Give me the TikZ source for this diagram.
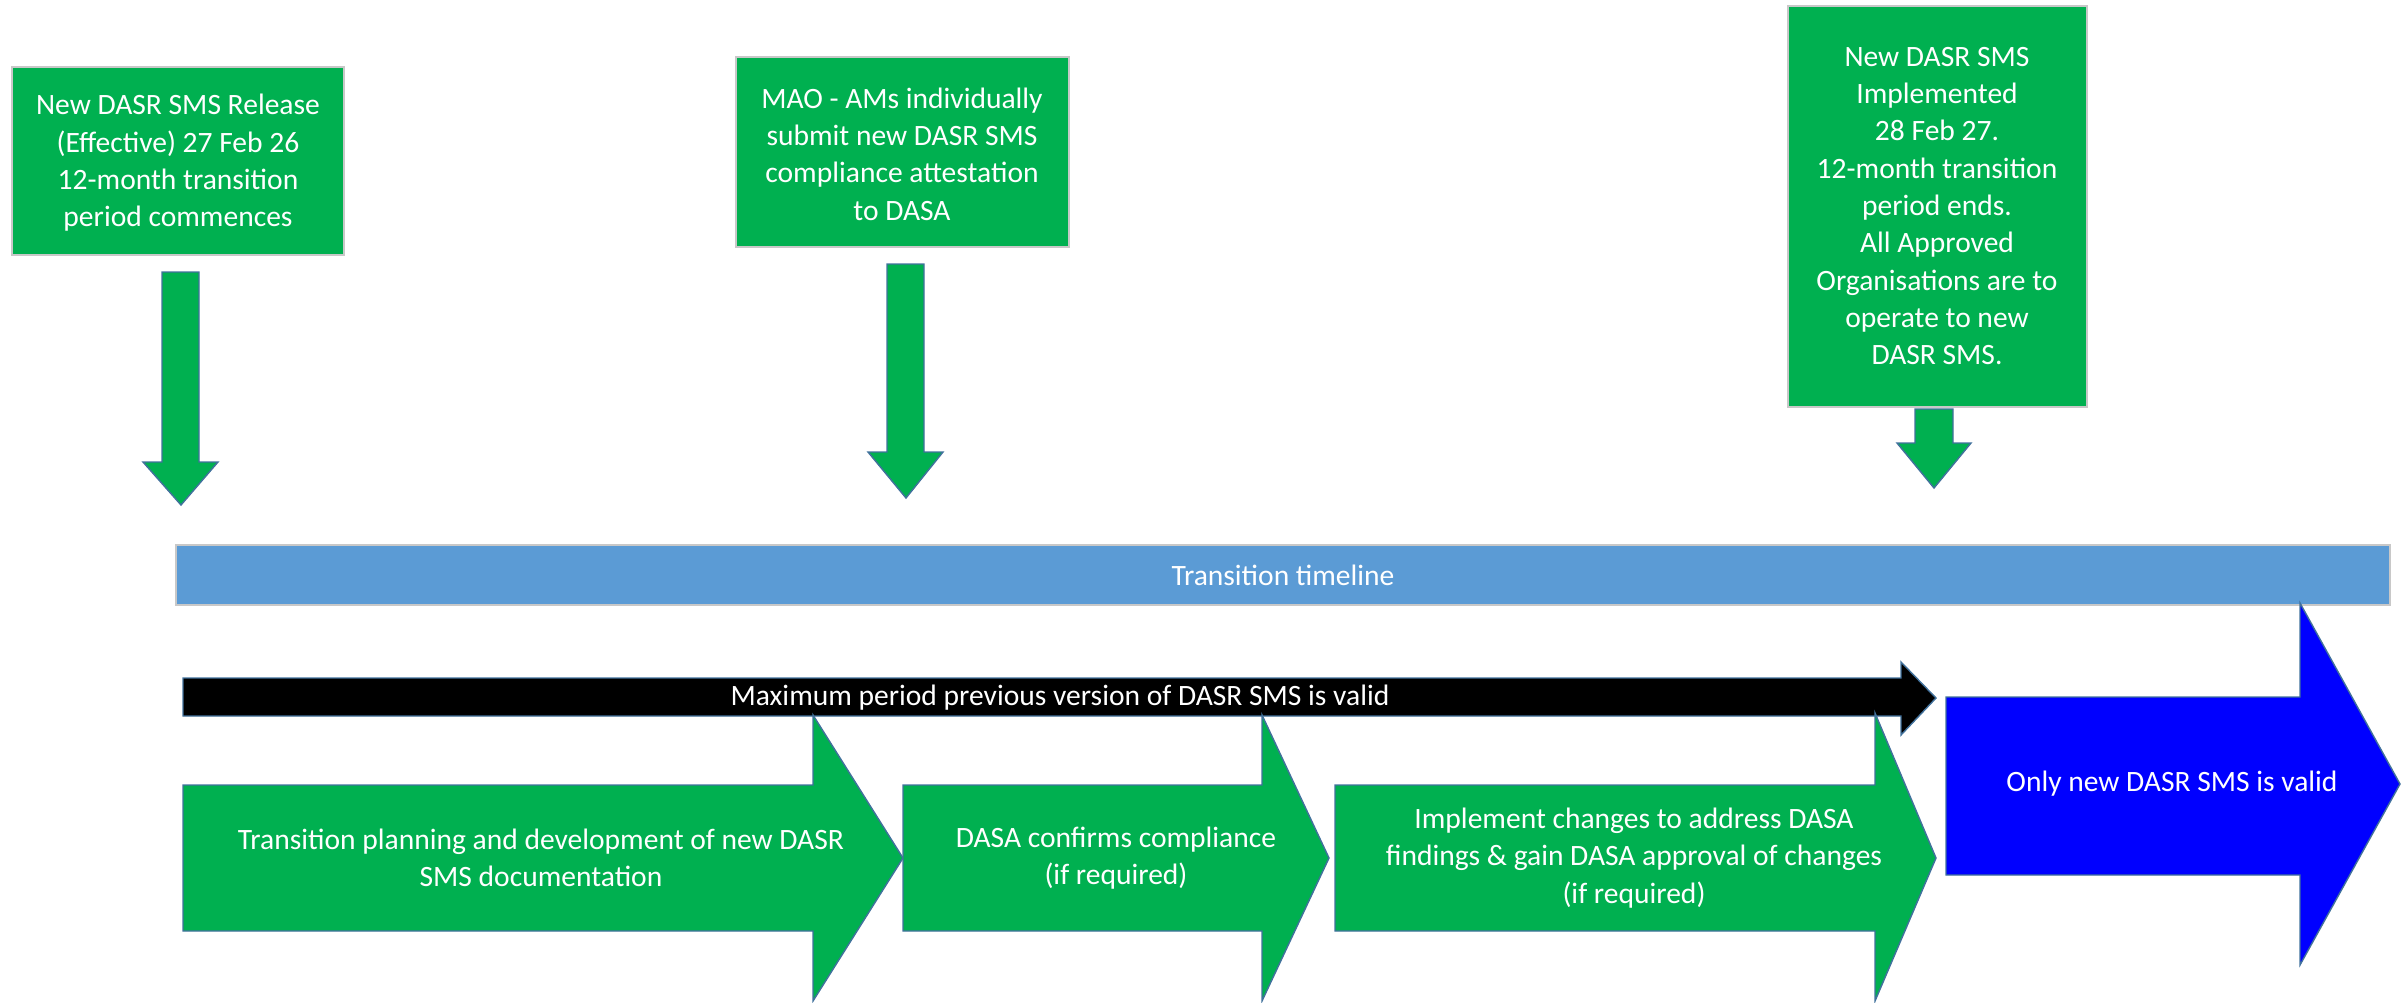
\documentclass[tikz,border=0pt]{standalone}
\usepackage{fontspec}
\setmainfont{Carlito}
\definecolor{ogreen}{HTML}{00B050}
\definecolor{barblue}{HTML}{5B9BD5}
\definecolor{pureblue}{HTML}{0000FF}
\definecolor{edgeblue}{HTML}{41719C}
\definecolor{boxedge}{HTML}{C8C8C8}
\begin{document}
\begin{tikzpicture}[x=0.01cm,y=-0.01cm,
  txt/.style={text=white,align=center,inner sep=0pt,font=\fontsize{8.4}{10.6}\selectfont},
  gbox/.style={fill=ogreen,draw=boxedge,line width=0.6pt},
  garrow/.style={fill=ogreen,draw=edgeblue,line width=0.4pt,line join=miter},
]
\useasboundingbox (0,0) rectangle (2405,1002);

% top boxes
\path[gbox] (12,67) rectangle (344,255);
\node[txt] (t1) at (178,163) {New DASR SMS Release\\(Effective) 27 Feb 26\\12-month transition\\period commences};
\path[gbox] (736,57) rectangle (1069,247);
\node[txt] (t2) at (902,154) {MAO - AMs individually\\submit new DASR SMS\\compliance attestation\\to DASA};
\path[gbox] (1788,6) rectangle (2087,407);
\node[txt] (t3) at (1937,206) {New DASR SMS\\Implemented\\28 Feb 27.\\12-month transition\\period ends.\\All Approved\\Organisations are to\\operate to new\\DASR SMS.};

% down arrows
\path[garrow] (162,272) -- (199,272) -- (199,462) -- (218,462) -- (181,505) -- (143,462) -- (162,462) -- cycle;
\path[garrow] (887,264) -- (924,264) -- (924,452) -- (943,452) -- (906,498) -- (868,452) -- (887,452) -- cycle;
\path[garrow] (1915,409) -- (1953,409) -- (1953,443) -- (1971,443) -- (1934,488) -- (1897,443) -- (1915,443) -- cycle;

% timeline bar
\path[fill=barblue,draw=boxedge,line width=0.6pt] (176,545) rectangle (2390,605);
\node[txt] (tl) at (1283,575) {Transition timeline};

% black arrow
\path[fill=black,draw=edgeblue,line width=0.4pt] (183,678) -- (1901,678) -- (1901,662) -- (1936,698) -- (1901,735) -- (1901,716) -- (183,716) -- cycle;
\node[txt] (mx) at (1060,698) {Maximum period previous version of DASR SMS is valid};

% green process arrows
\path[garrow] (183,785) -- (813,785) -- (813,715) -- (903,858) -- (813,1001) -- (813,931) -- (183,931) -- cycle;
\node[txt] (p1) at (541,858) {Transition planning and development of new DASR\\SMS documentation};
\path[garrow] (903,785) -- (1262,785) -- (1262,715) -- (1329,858) -- (1262,1001) -- (1262,931) -- (903,931) -- cycle;
\node[txt] (p2) at (1116,858) {DASA confirms compliance\\(if required)};
\path[garrow] (1335,785) -- (1875,785) -- (1875,713) -- (1936,858) -- (1875,1001) -- (1875,931) -- (1335,931) -- cycle;
\node[txt] (p3) at (1634,858) {Implement changes to address DASA\\findings \& gain DASA approval of changes\\(if required)};

% blue arrow
\path[fill=pureblue,draw=edgeblue,line width=0.4pt] (1946,697) -- (2300,697) -- (2300,603) -- (2400,784) -- (2300,965) -- (2300,875) -- (1946,875) -- cycle;
\node[txt] (p4) at (2172,784) {Only new DASR SMS is valid};
\end{tikzpicture}
\end{document}
